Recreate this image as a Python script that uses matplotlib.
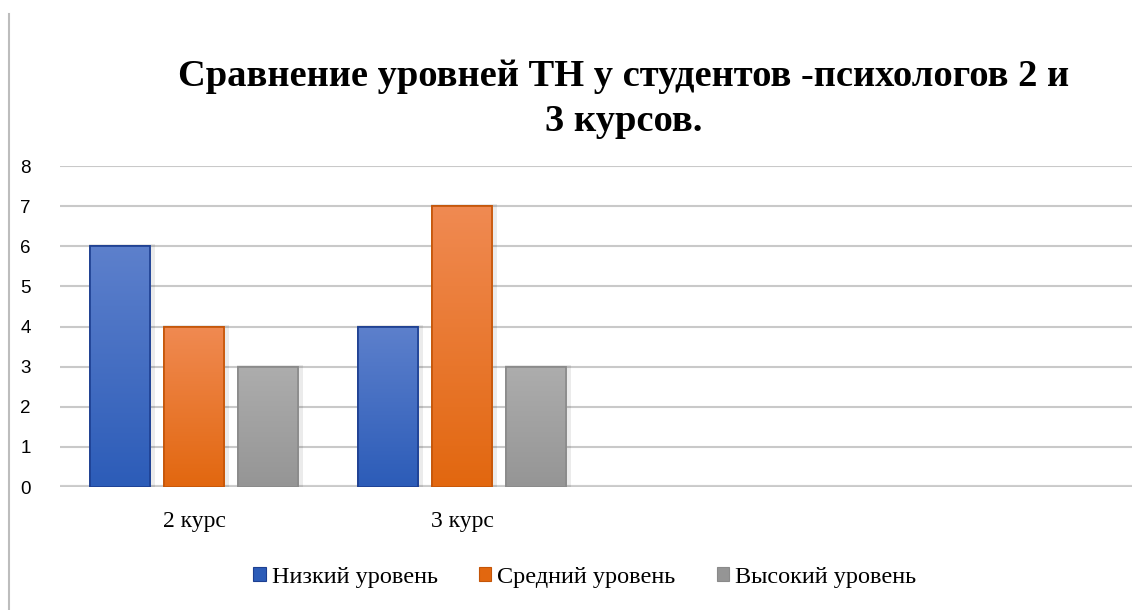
import numpy as np
import matplotlib.pyplot as plt
from matplotlib.colors import LinearSegmentedColormap

categories = ["2 курс", "3 курс", "", ""]
series_names = ["Низкий уровень", "Средний уровень", "Высокий уровень"]
low = [6, 4]
mid = [4, 7]
high = [3, 3]
title = "Сравнение уровней ТН у студентов -психологов 2 и\n3 курсов."

# (top colour, bottom colour, edge colour)
styles = [
    ("#5d80cc", "#2c5cb8", "#1d3f91"),
    ("#f08a52", "#e2670f", "#c45508"),
    ("#adadad", "#959595", "#8a8a8a"),
]

serif = ["Liberation Serif", "DejaVu Serif"]
sans = ["Liberation Sans", "DejaVu Sans"]


def main() -> None:
    fig = plt.figure(figsize=(11.42, 6.10), dpi=100)
    ax = fig.add_axes([0.0525, 0.2016, 0.9387, 0.5262])

    x = np.arange(len(categories))
    width = 0.224
    step = 0.276
    data = [low, mid, high]
    grad = np.linspace(0, 1, 256).reshape(-1, 1)

    for i, (vals, name, (top, bot, edge)) in enumerate(zip(data, series_names, styles)):
        xs = x[: len(vals)] + (i - 1) * step
        bars = ax.bar(xs, vals, width=width, color=bot, edgecolor=edge,
                      linewidth=1.2, label=name, zorder=3)
        cmap = LinearSegmentedColormap.from_list(f"g{i}", [bot, top])
        for b in bars:
            x0, y0 = b.get_x(), b.get_y()
            w, h = b.get_width(), b.get_height()
            # soft shadow
            ax.bar(x0 + w / 2 + 0.008, h + 0.05, width=w + 0.02, bottom=y0,
                   color="#000000", alpha=0.08, linewidth=0, zorder=2)
            im = ax.imshow(grad, extent=[x0, x0 + w, y0, y0 + h], origin="lower",
                           cmap=cmap, aspect="auto", zorder=3.5)
            im.set_clip_path(b)
            ax.bar(x0 + w / 2, h, width=w, bottom=y0, fill=False,
                   edgecolor=edge, linewidth=1.2, zorder=4)

    ax.set_xlim(-0.5, len(categories) - 0.5)
    ax.set_ylim(0, 8)
    ax.set_yticks(range(0, 9))
    ax.set_yticklabels([str(v) for v in range(0, 9)], family=sans, fontsize=13.5)
    ax.set_xticks(x)
    ax.set_xticklabels(categories, family=serif, fontsize=17)
    ax.tick_params(axis="both", length=0)
    ax.tick_params(axis="y", pad=21)
    ax.tick_params(axis="x", pad=17)

    for s in ax.spines.values():
        s.set_visible(False)
    ax.grid(axis="y", color="#c9c9c9", linewidth=1.5, zorder=0)
    ax.axhline(0, color="#cfcfcf", linewidth=3, zorder=1)

    fig.text(0.546, 0.838, title, ha="center", va="center", family=serif,
             fontweight="bold", fontsize=27.7, linespacing=1.36)

    handles, labels = ax.get_legend_handles_labels()
    leg = fig.legend(handles, labels, loc="center", bbox_to_anchor=(0.512, 0.054),
                     ncol=3, frameon=False, prop={"family": serif, "size": 17.5},
                     handlelength=0.5, handleheight=0.5, handletextpad=0.25,
                     columnspacing=1.7)
    for h in leg.legend_handles:
        h.set_linewidth(0.8)

    # left border of the chart frame
    fig.add_artist(plt.Line2D([0.0075, 0.0075], [0, 0.977], color="#bdbdbd",
                              linewidth=1.5))

    fig.savefig("out.png", dpi=100)


if __name__ == "__main__":
    main()
